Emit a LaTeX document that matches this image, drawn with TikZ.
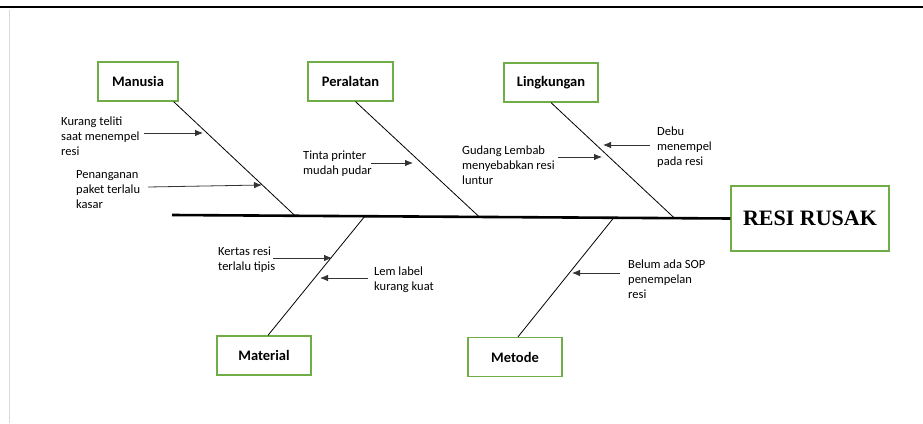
\documentclass[tikz,border=0pt]{standalone}
\usepackage{fontspec}
\setmainfont{Carlito}
\newfontfamily\timesfont{Liberation Serif}
\usetikzlibrary{arrows.meta}
\definecolor{boxgreen}{RGB}{112,173,71}

\begin{document}
\begin{tikzpicture}[x=1pt,y=-1pt,
		catbox/.style={draw=boxgreen,line width=1.3pt,minimum height=39pt,inner sep=0pt,
			font=\fontsize{14.5}{17}\selectfont\bfseries},
		cause/.style={align=left,anchor=west,inner sep=0pt,
			font=\fontsize{12.5}{15}\selectfont},
		bone/.style={line width=0.8pt},
		ptr/.style={-{Latex[length=8pt,width=6.5pt]},line width=0.8pt,black!80},
		]
		\useasboundingbox (0,0) rectangle (923,423);
		% page edge and margin
		\draw[line width=2.2pt] (0,7) -- (923,7);
		\draw[black!15,line width=1pt] (9,10) -- (9,423);
		% head and categories
		\node[draw=boxgreen,line width=1.3pt,minimum width=158pt,minimum height=65pt,
			font=\timesfont\fontsize{22}{24}\selectfont\bfseries] (resi) at (810,218.5) {RESI RUSAK};
		\node[catbox,minimum width=80pt] (man) at (138,81.5) {Manusia};
		\node[catbox,minimum width=85pt] (per) at (350.5,81.5) {Peralatan};
		\node[catbox,minimum width=94pt] (lin) at (551,82.5) {Lingkungan};
		\node[catbox,minimum width=94pt] (mat) at (264,355.5) {Material};
		\node[catbox,minimum width=94pt] (met) at (515,357) {Metode};
		% spine
		\coordinate (S0) at (172,215);
		\coordinate (S1) at (295,215.7);
		\coordinate (S2) at (479,216.6);
		\coordinate (S3) at (674,217.7);
		\coordinate (S4) at (365,216);
		\coordinate (S5) at (614,217.4);
		\draw[line width=2.6pt] (S0) -- (resi.west);
		% bones
		\draw[bone] ([xshift=-5pt]man.south east) -- (S1);
		\draw[bone] ([xshift=5pt]per.south) -- (S2);
		\draw[bone] (lin.south) -- (S3);
		\draw[bone] ([xshift=4pt]mat.north) -- (S4);
		\draw[bone] ([xshift=3pt]met.north) -- (S5);
		% causes
		\node[cause] (c1) at (61,136) {Kurang teliti\\saat menempel\\resi};
		\node[cause] (c2) at (76,190) {Penanganan\\paket terlalu\\kasar};
		\node[cause] (c3) at (303,163.5) {Tinta printer\\mudah pudar};
		\node[cause] (c4) at (462,165) {Gudang Lembab\\menyebabkan resi\\luntur};
		\node[cause] (c5) at (657,147) {Debu\\menempel\\pada resi};
		\node[cause] (c6) at (218,259.5) {Kertas resi\\terlalu tipis};
		\node[cause] (c7) at (374,280) {Lem label\\kurang kuat};
		\node[cause] (c8) at (628,279) {Belum ada SOP\\penempelan\\resi};
		% arrow ends
		\coordinate (t1) at (144,133); \coordinate (h1) at (203,133);
		\coordinate (t2) at (148,187); \coordinate (h2) at (262,185);
		\coordinate (t3) at (371,163); \coordinate (h3) at (413,163);
		\coordinate (t4) at (558,157); \coordinate (h4) at (602,157);
		\coordinate (t5) at (650,145); \coordinate (h5) at (603,145);
		\coordinate (t6) at (273,258); \coordinate (h6) at (332,258);
		\coordinate (t7) at (368,278); \coordinate (h7) at (320,278);
		\coordinate (t8) at (620,273); \coordinate (h8) at (572,273);
		\foreach \N in {1,...,8}{
			\draw[ptr] (t\N) -- (h\N);
		}
\end{tikzpicture}
\end{document}
